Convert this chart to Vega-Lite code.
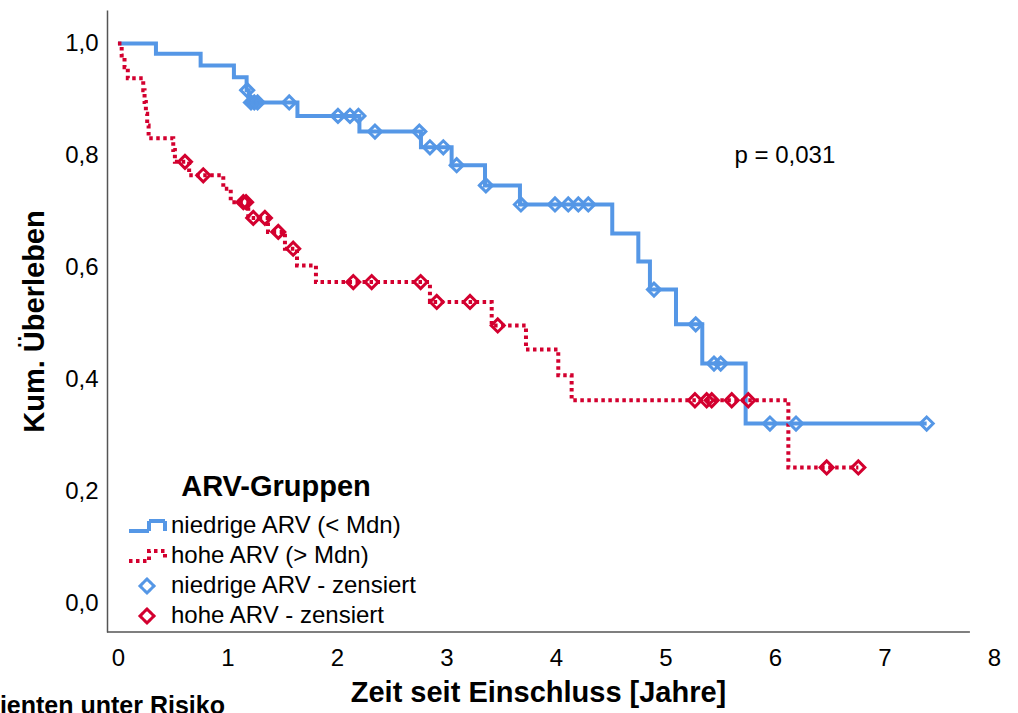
{
  "$schema": "https://vega.github.io/schema/vega-lite/v6.json",
  "width": 887,
  "height": 622,
  "autosize": {"type": "none"},
  "padding": {"left": 107, "top": 10, "right": 24, "bottom": 81},
  "background": "white",
  "title": {
    "text": "Patienten unter Risiko",
    "orient": "bottom",
    "anchor": "start",
    "frame": "group",
    "font": "Liberation Sans",
    "fontSize": 25,
    "fontWeight": "bold",
    "color": "black",
    "dx": -146,
    "dy": -17
  },
  "config": {
    "font": "Liberation Sans",
    "view": {"stroke": null}
  },
  "datasets": {
    "km": [
      {"series": "niedrige ARV (< Mdn)", "t": 0, "s": 1.0},
      {"series": "niedrige ARV (< Mdn)", "t": 0.347, "s": 0.982},
      {"series": "niedrige ARV (< Mdn)", "t": 0.755, "s": 0.961},
      {"series": "niedrige ARV (< Mdn)", "t": 1.059, "s": 0.940},
      {"series": "niedrige ARV (< Mdn)", "t": 1.175, "s": 0.917},
      {"series": "niedrige ARV (< Mdn)", "t": 1.195, "s": 0.895},
      {"series": "niedrige ARV (< Mdn)", "t": 1.639, "s": 0.871},
      {"series": "niedrige ARV (< Mdn)", "t": 2.205, "s": 0.843},
      {"series": "niedrige ARV (< Mdn)", "t": 2.767, "s": 0.815},
      {"series": "niedrige ARV (< Mdn)", "t": 3.047, "s": 0.783},
      {"series": "niedrige ARV (< Mdn)", "t": 3.352, "s": 0.747},
      {"series": "niedrige ARV (< Mdn)", "t": 3.671, "s": 0.713},
      {"series": "niedrige ARV (< Mdn)", "t": 4.514, "s": 0.661},
      {"series": "niedrige ARV (< Mdn)", "t": 4.752, "s": 0.611},
      {"series": "niedrige ARV (< Mdn)", "t": 4.858, "s": 0.561},
      {"series": "niedrige ARV (< Mdn)", "t": 5.096, "s": 0.499},
      {"series": "niedrige ARV (< Mdn)", "t": 5.336, "s": 0.429},
      {"series": "niedrige ARV (< Mdn)", "t": 5.732, "s": 0.322},
      {"series": "niedrige ARV (< Mdn)", "t": 7.385, "s": 0.322},
      {"series": "hohe ARV (> Mdn)", "t": 0, "s": 1.0},
      {"series": "hohe ARV (> Mdn)", "t": 0.034, "s": 0.979},
      {"series": "hohe ARV (> Mdn)", "t": 0.06, "s": 0.958},
      {"series": "hohe ARV (> Mdn)", "t": 0.09, "s": 0.938},
      {"series": "hohe ARV (> Mdn)", "t": 0.231, "s": 0.917},
      {"series": "hohe ARV (> Mdn)", "t": 0.243, "s": 0.896},
      {"series": "hohe ARV (> Mdn)", "t": 0.255, "s": 0.875},
      {"series": "hohe ARV (> Mdn)", "t": 0.267, "s": 0.854},
      {"series": "hohe ARV (> Mdn)", "t": 0.28, "s": 0.831},
      {"series": "hohe ARV (> Mdn)", "t": 0.505, "s": 0.810},
      {"series": "hohe ARV (> Mdn)", "t": 0.52, "s": 0.789},
      {"series": "hohe ARV (> Mdn)", "t": 0.65, "s": 0.765},
      {"series": "hohe ARV (> Mdn)", "t": 0.962, "s": 0.741},
      {"series": "hohe ARV (> Mdn)", "t": 1.03, "s": 0.717},
      {"series": "hohe ARV (> Mdn)", "t": 1.19, "s": 0.689},
      {"series": "hohe ARV (> Mdn)", "t": 1.37, "s": 0.664},
      {"series": "hohe ARV (> Mdn)", "t": 1.525, "s": 0.634},
      {"series": "hohe ARV (> Mdn)", "t": 1.635, "s": 0.604},
      {"series": "hohe ARV (> Mdn)", "t": 1.808, "s": 0.5745},
      {"series": "hohe ARV (> Mdn)", "t": 2.849, "s": 0.539},
      {"series": "hohe ARV (> Mdn)", "t": 3.413, "s": 0.497},
      {"series": "hohe ARV (> Mdn)", "t": 3.726, "s": 0.454},
      {"series": "hohe ARV (> Mdn)", "t": 4.021, "s": 0.408},
      {"series": "hohe ARV (> Mdn)", "t": 4.143, "s": 0.3636},
      {"series": "hohe ARV (> Mdn)", "t": 6.122, "s": 0.2437},
      {"series": "hohe ARV (> Mdn)", "t": 6.761, "s": 0.2437}
    ],
    "censored": [
      {"series": "niedrige ARV - zensiert", "t": 1.18, "s": 0.917},
      {"series": "niedrige ARV - zensiert", "t": 1.215, "s": 0.895},
      {"series": "niedrige ARV - zensiert", "t": 1.245, "s": 0.895},
      {"series": "niedrige ARV - zensiert", "t": 1.275, "s": 0.895},
      {"series": "niedrige ARV - zensiert", "t": 1.564, "s": 0.895},
      {"series": "niedrige ARV - zensiert", "t": 2.009, "s": 0.871},
      {"series": "niedrige ARV - zensiert", "t": 2.119, "s": 0.871},
      {"series": "niedrige ARV - zensiert", "t": 2.196, "s": 0.871},
      {"series": "niedrige ARV - zensiert", "t": 2.347, "s": 0.843},
      {"series": "niedrige ARV - zensiert", "t": 2.752, "s": 0.843},
      {"series": "niedrige ARV - zensiert", "t": 2.849, "s": 0.815},
      {"series": "niedrige ARV - zensiert", "t": 2.971, "s": 0.815},
      {"series": "niedrige ARV - zensiert", "t": 3.093, "s": 0.783},
      {"series": "niedrige ARV - zensiert", "t": 3.36, "s": 0.747},
      {"series": "niedrige ARV - zensiert", "t": 3.68, "s": 0.713},
      {"series": "niedrige ARV - zensiert", "t": 3.991, "s": 0.713},
      {"series": "niedrige ARV - zensiert", "t": 4.112, "s": 0.713},
      {"series": "niedrige ARV - zensiert", "t": 4.204, "s": 0.713},
      {"series": "niedrige ARV - zensiert", "t": 4.295, "s": 0.713},
      {"series": "niedrige ARV - zensiert", "t": 4.895, "s": 0.561},
      {"series": "niedrige ARV - zensiert", "t": 5.276, "s": 0.499},
      {"series": "niedrige ARV - zensiert", "t": 5.443, "s": 0.429},
      {"series": "niedrige ARV - zensiert", "t": 5.504, "s": 0.429},
      {"series": "niedrige ARV - zensiert", "t": 5.954, "s": 0.322},
      {"series": "niedrige ARV - zensiert", "t": 6.192, "s": 0.322},
      {"series": "niedrige ARV - zensiert", "t": 7.385, "s": 0.322},
      {"series": "hohe ARV - zensiert", "t": 0.612, "s": 0.789},
      {"series": "hohe ARV - zensiert", "t": 0.779, "s": 0.765},
      {"series": "hohe ARV - zensiert", "t": 1.145, "s": 0.717},
      {"series": "hohe ARV - zensiert", "t": 1.17, "s": 0.717},
      {"series": "hohe ARV - zensiert", "t": 1.236, "s": 0.689},
      {"series": "hohe ARV - zensiert", "t": 1.342, "s": 0.689},
      {"series": "hohe ARV - zensiert", "t": 1.464, "s": 0.664},
      {"series": "hohe ARV - zensiert", "t": 1.6, "s": 0.634},
      {"series": "hohe ARV - zensiert", "t": 2.149, "s": 0.5745},
      {"series": "hohe ARV - zensiert", "t": 2.317, "s": 0.5745},
      {"series": "hohe ARV - zensiert", "t": 2.764, "s": 0.5745},
      {"series": "hohe ARV - zensiert", "t": 2.911, "s": 0.539},
      {"series": "hohe ARV - zensiert", "t": 3.215, "s": 0.539},
      {"series": "hohe ARV - zensiert", "t": 3.468, "s": 0.497},
      {"series": "hohe ARV - zensiert", "t": 5.269, "s": 0.3636},
      {"series": "hohe ARV - zensiert", "t": 5.376, "s": 0.3636},
      {"series": "hohe ARV - zensiert", "t": 5.422, "s": 0.3636},
      {"series": "hohe ARV - zensiert", "t": 5.605, "s": 0.3636},
      {"series": "hohe ARV - zensiert", "t": 5.756, "s": 0.3636},
      {"series": "hohe ARV - zensiert", "t": 6.472, "s": 0.2437},
      {"series": "hohe ARV - zensiert", "t": 6.761, "s": 0.2437}
    ],
    "note": [{"label": "p = 0,031"}]
  },
  "encoding": {
    "x": {
      "type": "quantitative",
      "scale": {"domain": [-0.1, 8], "nice": false, "zero": false},
      "axis": {
        "values": [0, 1, 2, 3, 4, 5, 6, 7, 8],
        "format": "d",
        "domain": false,
        "ticks": false,
        "grid": false,
        "labelFontSize": 24,
        "labelColor": "black",
        "labelPadding": 14,
        "labelFlush": false,
        "title": "Zeit seit Einschluss [Jahre]",
        "titleFontSize": 29,
        "titleFontWeight": "bold",
        "titleColor": "black",
        "titlePadding": 8,
        "titleX": 431
      }
    },
    "y": {
      "type": "quantitative",
      "scale": {"domain": [-0.05, 1.06], "nice": false, "zero": false},
      "axis": {
        "values": [0, 0.2, 0.4, 0.6, 0.8, 1.0],
        "labelExpr": "replace(format(datum.value, '.1f'), '.', ',')",
        "domainColor": "#555555",
        "domainWidth": 1.5,
        "ticks": false,
        "grid": false,
        "labelFontSize": 24,
        "labelColor": "black",
        "labelPadding": 9,
        "labelFlush": false,
        "title": "Kum. Überleben",
        "titleFontSize": 29,
        "titleFontWeight": "bold",
        "titleColor": "black",
        "titlePadding": 15
      }
    },
    "color": {
      "field": "series",
      "type": "nominal",
      "scale": {
        "domain": ["niedrige ARV (< Mdn)", "hohe ARV (> Mdn)", "niedrige ARV - zensiert", "hohe ARV - zensiert"],
        "range": ["#5597E6", "#D3002F", "#5597E6", "#D3002F"]
      },
      "legend": {
        "orient": "none",
        "legendX": 28,
        "legendY": 463,
        "title": "ARV-Gruppen",
        "titleFontSize": 29,
        "titleFontWeight": "bold",
        "titleColor": "black",
        "titleAnchor": "middle",
        "titleLimit": 500,
        "titlePadding": 12,
        "labelFontSize": 24,
        "labelColor": "black",
        "labelLimit": 500,
        "labelOffset": 12,
        "symbolSize": 400,
        "symbolOffset": 0,
        "rowPadding": 4,
        "padding": 0,
        "encode": {
          "symbols": {
            "update": {
              "shape": {"signal": "(datum.value === 'niedrige ARV (< Mdn)' || datum.value === 'hohe ARV (> Mdn)') ? 'M-1.8,0.5H0.2V-0.5H1.8V0.5' : 'M-0.7,0L0,-0.7L0.7,0L0,0.7Z'"},
              "strokeDash": {"signal": "datum.value === 'hohe ARV (> Mdn)' ? [3.5, 3.5] : [1, 0]"},
              "strokeWidth": {"signal": "datum.value === 'niedrige ARV (< Mdn)' ? 4 : (datum.value === 'hohe ARV (> Mdn)' ? 4 : 3)"},
              "size": {"value": 400},
              "fill": {"value": "transparent"},
              "stroke": {"signal": "scale('color', datum.value)"},
              "opacity": {"value": 1}
            }
          }
        }
      }
    }
  },
  "layer": [
    {
      "data": {"name": "note"},
      "mark": {"type": "rule", "color": "#555555", "strokeWidth": 1.5},
      "encoding": {
        "x": {"datum": -0.1},
        "x2": {"datum": 7.78},
        "y": {"datum": -0.05},
        "color": {"value": "#555555"}
      }
    },
    {
      "data": {"name": "km"},
      "transform": [{"filter": "datum.series === 'niedrige ARV (< Mdn)'"}],
      "mark": {"type": "line", "interpolate": "step-after", "strokeWidth": 4},
      "encoding": {
        "x": {"field": "t"},
        "y": {"field": "s"}
      }
    },
    {
      "data": {"name": "km"},
      "transform": [{"filter": "datum.series === 'hohe ARV (> Mdn)'"}],
      "mark": {"type": "line", "interpolate": "step-after", "strokeWidth": 4, "strokeDash": [3.5, 3.5]},
      "encoding": {
        "x": {"field": "t"},
        "y": {"field": "s"}
      }
    },
    {
      "data": {"name": "censored"},
      "mark": {"type": "point", "shape": "diamond", "filled": false, "size": 170, "strokeWidth": 3, "opacity": 1},
      "encoding": {
        "x": {"field": "t"},
        "y": {"field": "s"}
      }
    },
    {
      "data": {"name": "note"},
      "mark": {"type": "text", "fontSize": 24, "align": "center", "baseline": "middle"},
      "encoding": {
        "x": {"datum": 6.09},
        "y": {"datum": 0.8},
        "text": {"field": "label"},
        "color": {"value": "black"}
      }
    }
  ]
}
